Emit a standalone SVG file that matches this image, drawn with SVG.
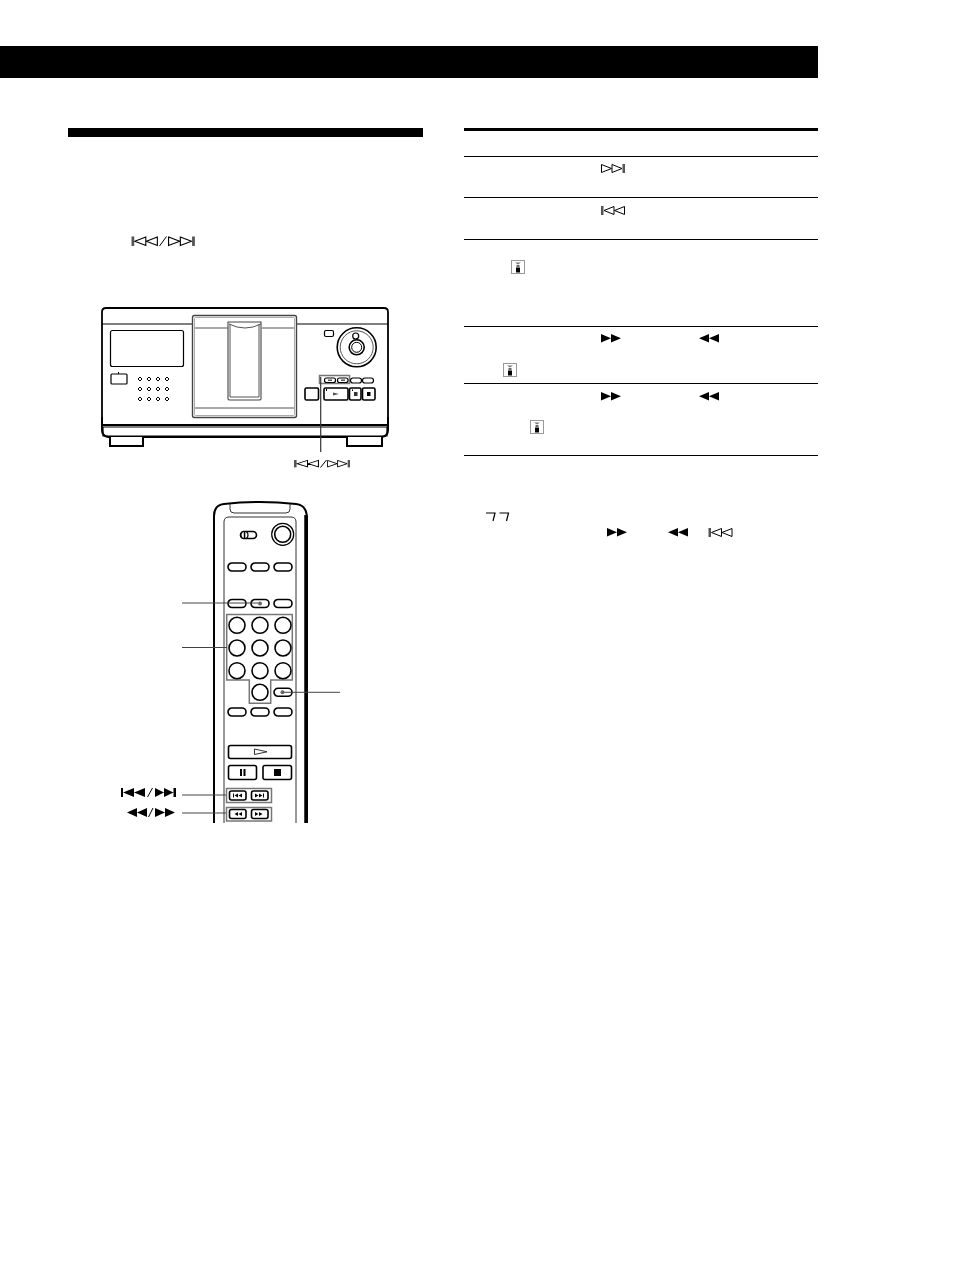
<svg xmlns="http://www.w3.org/2000/svg" width="954" height="1274" viewBox="0 0 954 1274">
<style>
.l{fill:none;stroke:#000;stroke-width:1}
.b{fill:#fff;stroke:#000;stroke-width:1.2}
.t{fill:#fff;stroke:#000;stroke-width:1.6}
.g{fill:none;stroke:#555;stroke-width:1}
.k{fill:#000}
.d{fill:#fff;stroke:#000;stroke-width:1}
.m{fill:#666}
.c{fill:none;stroke:#444;stroke-width:1}
</style>
<defs>
<g id="next"><path class="l" d="M.5 .5L10.500 4.500L.5 8.500ZM11 .5L21 4.500L11 8.500Z"/><rect x="21.500" y="0" width="2.500" height="9" fill="#555"/></g>
<g id="prev"><rect x="0" y="0" width="2.500" height="9" fill="#555"/><path class="l" d="M13 .5L3 4.500L13 8.500ZM23.500 .5L13.500 4.500L23.500 8.500Z"/></g>
<path id="ff" class="k" d="M0 0L10 4.300L0 8.600ZM10 0L20 4.300L10 8.600Z"/>
<path id="rw" class="k" d="M10 0L0 4.300L10 8.600ZM20 0L10 4.300L20 8.600Z"/>
<g id="info"><rect x=".5" y=".5" width="13" height="13" fill="#fff" stroke="#999"/><path d="M4 2.500H10L7 4.500Z" fill="#777"/><rect x="5.500" y="5" width="3" height="2" fill="#666"/><rect x="5" y="7.500" width="4" height="5" class="k"/></g>
<circle id="num" class="t" r="8"/>
<rect id="ob" class="t" width="18" height="8" rx="4"/>
<path id="dia" class="d" d="M0 -2L2 0L0 2L-2 0Z"/>
</defs>

<g id="header"><rect x="0" y="46" width="818" height="32" class="k"/><rect x="68" y="128" width="355" height="9" class="k"/></g>

<g id="intro-icon"><use href="#prev" transform="translate(131.500 236.500) scale(1.1 1.05)"/><path class="l" d="M159.500 246L166.500 236.500"/><use href="#next" transform="translate(168 236.500) scale(1.12 1.05)"/></g>

<g id="player">
<path d="M102 425V312Q102 308 106 308H384Q388 308 388 312V425Z" fill="#fff" stroke="#000" stroke-width="1.800"/>
<path class="l" d="M102 324H192M297 324H388"/>
<path d="M103 427H387V436H103Z" fill="#fff" stroke="#000" stroke-width="1.200"/>
<path d="M102 417V430Q102 436 108 437H382Q388 436 388 430V417" fill="none" stroke="#000" stroke-width="2"/>
<path d="M110 437V446H143V437" fill="#fff" stroke="#000" stroke-width="2"/>
<path d="M347 437V446H382V437" fill="#fff" stroke="#000" stroke-width="2"/>
<rect x="110.500" y="330.500" width="73" height="36" rx="2" class="b"/>
<rect x="111" y="374" width="16" height="10" rx="1" class="b"/>
<rect x="118" y="372" width="1" height="2" class="k"/>
<g id="disc-keys">
<use href="#dia" x="140" y="379"/><use href="#dia" x="149" y="379"/><use href="#dia" x="158" y="379"/><use href="#dia" x="167" y="379"/>
<use href="#dia" x="140" y="389"/><use href="#dia" x="149" y="389"/><use href="#dia" x="158" y="389"/><use href="#dia" x="167" y="389"/>
<use href="#dia" x="140" y="399"/><use href="#dia" x="149" y="399"/><use href="#dia" x="158" y="399"/><use href="#dia" x="167" y="399"/>
</g>
<g id="door">
<rect x="192.500" y="315.500" width="104" height="102" rx="2" fill="#fff" stroke="#444" stroke-width="1.400"/>
<rect x="194.500" y="317.500" width="100" height="98" rx="1" fill="none" stroke="#888" stroke-width=".7"/>
<path class="g" d="M195 328H228M262 328H294M195 408H294"/>
<path d="M228 322H261V399Q261 400 259 400H230Q228 400 228 399Z" fill="#fff" stroke="#444" stroke-width="1.100"/>
<path class="g" stroke-width=".7" d="M230 324V397H259V324M229 324Q245 332 261 324"/>
</g>
<g id="jog">
<rect x="324.500" y="330.500" width="9" height="6" rx="1.500" class="b"/>
<circle cx="356.700" cy="347.300" r="19.500" class="t" stroke-width="1.500"/>
<circle cx="356.700" cy="347.300" r="16.500" class="g"/>
<circle cx="356.700" cy="347.300" r="7.500" class="t"/>
<circle cx="356.700" cy="347.300" r="5" class="l"/>
<circle cx="355.700" cy="336" r="3" class="b" stroke-width=".6"/>
</g>
<g id="player-keys">
<rect x="319.500" y="375.500" width="30" height="8" fill="#fff" stroke="#777" stroke-width="1.500"/>
<rect x="324.500" y="378" width="11" height="4.500" rx="2" class="b"/>
<rect x="337.500" y="378" width="10.500" height="4.500" rx="2" class="b"/>
<rect x="328" y="379.500" width="4" height="1.500" fill="#555"/><rect x="341" y="379.500" width="4" height="1.500" fill="#555"/>
<rect x="350.500" y="378" width="11" height="5" rx="2.500" class="b"/>
<rect x="362.500" y="378" width="11" height="5" rx="2.500" class="b"/>
<rect x="305" y="388" width="13.500" height="12" rx="1.500" class="t"/>
<rect x="324" y="388" width="24" height="12" rx="1.500" class="t"/>
<path d="M333 392.500L339 394L333 395.500Z" fill="#555"/>
<rect x="349.500" y="388" width="11.500" height="12" rx="1.500" class="t"/>
<rect x="354" y="392" width="3.500" height="4" fill="#333"/><rect x="352" y="389.500" width="1" height="1.500" class="k"/>
<rect x="362.500" y="388" width="12.500" height="12" rx="1.500" class="t"/>
<rect x="367" y="392" width="3.500" height="4" class="k"/>
<rect x="326" y="389" width="1" height="2" class="k"/>
</g>
</g>
<g id="player-label"><use href="#prev" transform="translate(294 460) scale(1.04 .82)"/><path class="l" d="M320.500 467.500L326.500 460"/><use href="#next" transform="translate(327 460) scale(.96 .82)"/></g>

<g id="remote">
<path d="M214 823V516Q214 505 224 504Q260 500 296 504Q306 505 307 516V823" fill="#fff" stroke="#000" stroke-width="2"/>
<path d="M305.500 515V823" stroke="#000" stroke-width="2.500" fill="none"/>
<path d="M224 823V522Q224 517 229 517H291Q296 517 296 522V823" fill="none" stroke="#333"/>
<path d="M230 504V509Q230 513 234 513H286Q290 513 290 509V504" fill="none" stroke="#333"/>
<g id="remote-top">
<rect x="240.500" y="531.500" width="16" height="7" rx="3.500" class="t"/>
<circle cx="244.500" cy="535" r="3.500" class="b"/><rect x="243.800" y="531.500" width="1.500" height="7" class="k"/>
<circle cx="282.700" cy="534.300" r="11" class="b"/>
<circle cx="282.700" cy="534.300" r="8" class="t"/>
</g>
<g id="remote-row1"><use href="#ob" x="228" y="563"/><use href="#ob" x="251" y="563"/><use href="#ob" x="274" y="563"/></g>
<g id="remote-row2"><use href="#ob" x="228" y="599.500"/><use href="#ob" x="251" y="599.500"/><use href="#ob" x="274" y="599.500"/></g>
<path d="M226.700 614.500H292.300V680H270.700V703.300H249.300V680H226.700Z" fill="none" stroke="#777" stroke-width="1.500"/>
<g id="remote-numbers">
<use href="#num" x="237" y="625.300"/><use href="#num" x="260" y="625.300"/><use href="#num" x="283" y="625.300"/>
<use href="#num" x="237" y="648"/><use href="#num" x="260" y="648"/><use href="#num" x="283" y="648"/>
<use href="#num" x="237" y="670.700"/><use href="#num" x="260" y="670.700"/><use href="#num" x="283" y="670.700"/>
<use href="#num" x="260" y="692.300"/>
</g>
<g id="remote-row3"><use href="#ob" x="274" y="688.300"/></g>
<g id="remote-row4"><use href="#ob" x="228" y="708"/><use href="#ob" x="251" y="708"/><use href="#ob" x="274" y="708"/></g>
<g id="remote-transport">
<rect x="228.500" y="745.500" width="63" height="13" rx="2" class="t"/>
<path fill="none" stroke="#333" d="M254.500 749L267 751.800L254.500 754.500Z"/>
<rect x="228.500" y="765.500" width="28" height="14" rx="2" class="t"/>
<rect x="240" y="769" width="2" height="7" class="k"/><rect x="243.500" y="769" width="2" height="7" class="k"/>
<rect x="263" y="765.500" width="28.500" height="14" rx="2" class="t"/>
<rect x="274" y="769" width="7" height="7" class="k"/>
</g>
<g id="remote-skip">
<rect x="226.500" y="788.500" width="45" height="14" fill="#fff" stroke="#777" stroke-width="1.500"/>
<rect x="229.500" y="791" width="16.500" height="9" rx="2" class="t"/><rect x="251.500" y="791" width="16.500" height="9" rx="2" class="t"/>
<path class="k" d="M233 793.500H234V797.500H233ZM238 793.500V797.500L234.500 795.500ZM242 793.500V797.500L238.500 795.500Z"/>
<path class="k" d="M255 793.500V797.500L258.500 795.500ZM259 793.500V797.500L262.500 795.500ZM263 793.500H264V797.500H263Z"/>
</g>
<g id="remote-scan">
<rect x="226.500" y="807.500" width="45" height="13.500" fill="#fff" stroke="#777" stroke-width="1.500"/>
<rect x="229.500" y="809.500" width="16.500" height="9" rx="2" class="t"/><rect x="251.500" y="809.500" width="16.500" height="9" rx="2" class="t"/>
<path class="k" d="M238 812V816L234.500 814ZM242 812V816L238.500 814Z"/>
<path class="k" d="M255 812V816L258.500 814ZM259 812V816L262.500 814Z"/>
</g>
</g>

<g id="connectors">
<path d="M320.700 377V452" stroke="#333" stroke-width="1.200" fill="none"/>
<path class="c" d="M182 603H258"/>
<path class="c" d="M182 647.500H227"/>
<path class="c" d="M284 692.300H340"/>
<path class="c" d="M182 795H226"/>
<path class="c" d="M182 813H226"/>
<circle cx="260" cy="603.500" r="2" class="m"/>
<circle cx="282.500" cy="692.300" r="2" class="m"/>
</g>

<g id="remote-labels">
<g id="label-skip"><path class="k" d="M121 788H123V797H121ZM123 792.500L134 788V797ZM134 792.500L145 788V797Z"/><path class="l" d="M147.500 797L152.500 788"/><path class="k" d="M155 788L164 792.500L155 797ZM164 788L173.500 792.500L164 797ZM173.500 788H176V797H173.500Z"/></g>
<g id="label-scan"><path class="k" d="M127 812.500L137 808V817ZM137 812.500L147 808V817Z"/><path class="l" d="M148.500 817L153 808"/><path class="k" d="M155 808L165 812.500L155 817ZM165 808L175 812.500L165 817Z"/></g>
</g>

<g id="table">
<rect x="464" y="128" width="354" height="3" class="k"/>
<path stroke="#000" fill="none" d="M464 156.500H818M464 197.500H818M464 239.500H818M464 326.500H818M464 383.500H818M464 455.500H818"/>
<use href="#next" x="601" y="164"/>
<use href="#prev" x="601" y="206"/>
<use href="#info" x="511" y="260"/>
<use href="#ff" x="601" y="334"/><use href="#rw" x="699" y="334"/>
<use href="#info" x="503" y="363"/>
<use href="#ff" x="601" y="392"/><use href="#rw" x="699" y="392"/>
<use href="#info" x="530" y="420"/>
</g>

<g id="note">
<path fill="none" stroke="#000" stroke-width="1.200" d="M486 513H495L493 521M499.500 513H508.500L506.500 521"/>
<use href="#ff" x="607" y="528"/><use href="#rw" x="668" y="528"/><use href="#prev" x="708.500" y="528"/>
</g>
</svg>
